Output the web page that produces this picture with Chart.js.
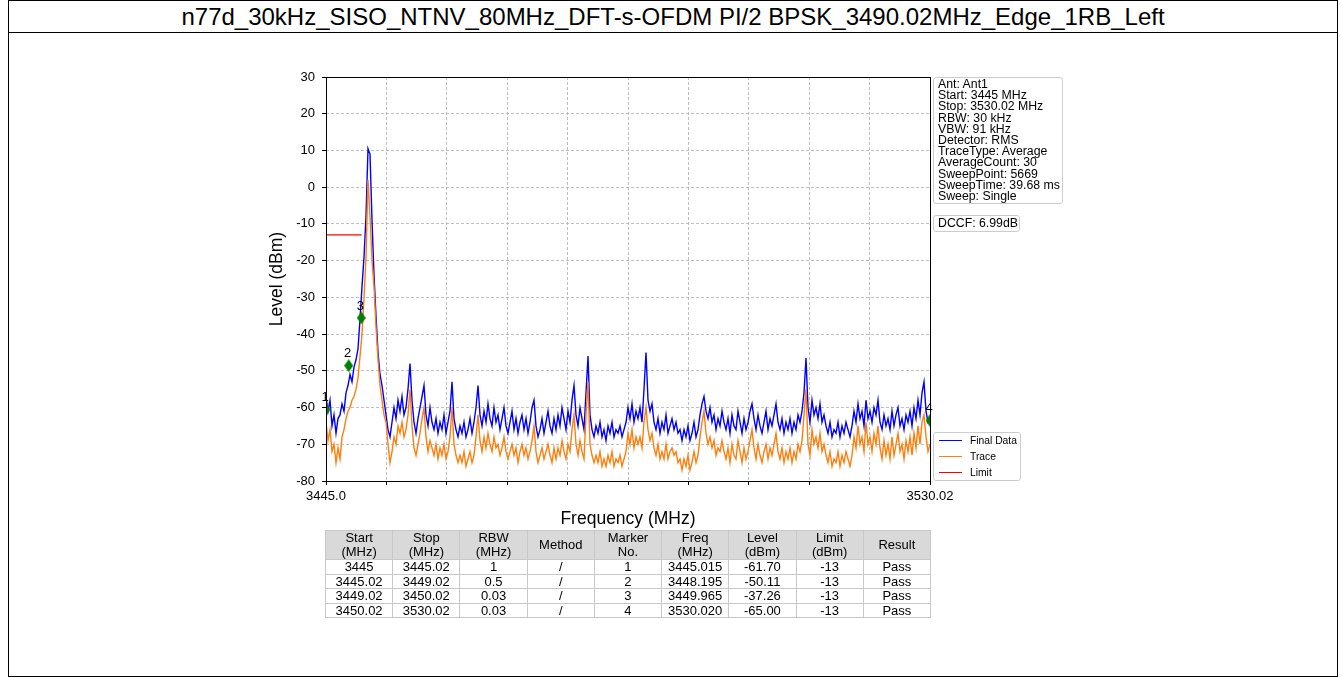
<!DOCTYPE html>
<html>
<head>
<meta charset="utf-8">
<script src="https://cdn.jsdelivr.net/npm/chart.js@4.4.1/dist/chart.umd.min.js"></script>
<style>
html,body{margin:0;padding:0;background:#fff;}
body{width:1340px;height:677px;position:relative;overflow:hidden;font-family:"Liberation Sans",Arial,sans-serif;color:#000;}
#frame{position:absolute;left:8px;top:0;width:1330px;height:677px;box-sizing:border-box;border:1px solid #000;}
#title{position:absolute;left:8px;top:0;width:1330px;height:33px;box-sizing:border-box;border:1px solid #000;text-align:center;font-size:24px;line-height:31px;white-space:nowrap;}
#chart{position:absolute;left:0;top:0;}
.box{position:absolute;background:#fff;border:1px solid #cccccc;border-radius:3px;box-sizing:border-box;white-space:nowrap;}
#info{left:933px;top:77px;width:130px;height:127px;padding:1px 0 0 4px;font-size:12.3px;line-height:11.2px;}
#dccf{left:933px;top:215px;width:87px;height:17px;padding:0 0 0 4px;font-size:12.3px;line-height:15px;}
#legend{left:933px;top:432px;width:88px;height:49px;font-size:10.3px;}
.lg{position:absolute;left:5px;height:16px;line-height:16px;}
.lg span.ln{position:absolute;left:0;top:7px;width:23px;height:0;border-top:1.5px solid;}
.lg span.tx{position:absolute;left:31px;top:0;}
#tbl{position:absolute;left:325px;top:530px;width:606px;border-collapse:collapse;table-layout:fixed;font-size:13px;}
#tbl td,#tbl th{border:1px solid #c8c8c8;padding:0;text-align:center;font-weight:normal;}
#tbl th{background:#d9d9d9;line-height:14px;height:28px;}
#tbl td{line-height:13.5px;height:13.5px;}
</style>
</head>
<body>
<div id="frame"></div>
<div id="title">n77d_30kHz_SISO_NTNV_80MHz_DFT-s-OFDM PI/2 BPSK_3490.02MHz_Edge_1RB_Left</div>
<canvas id="chart" width="1340" height="677"></canvas>
<div id="info" class="box"></div>
<div id="dccf" class="box">DCCF: 6.99dB</div>
<div id="legend" class="box"></div>
<table id="tbl"></table>
<script>
// ---- sweep settings (from info box) ----
const sweepStart = 3445;
const sweepStop = 3530.02;

// ---- Final Data (blue), evenly spaced over the sweep ----
const finalData = [
 -57,-61,-58,-65,-62,-67,-63,-62,-59,-61,
 -56,-54,-51,-53,-49,-47,-44,-36,-27,-19,
 -8,10.5,9,-9,-24,-35,-45,-51,-54,-58,
 -62,-66,-68,-64,-60,-63,-58,-61,-57,-62,
 -60,-55,-48,-58,-64,-67,-63,-60,-57,-54,
 -62,-65,-60,-64,-66,-63,-67,-64,-66,-62,
 -67,-64,-61,-53,-63,-66,-68,-65,-67,-64,
 -68,-66,-63,-67,-64,-60,-54,-62,-65,-61,
 -64,-59,-63,-65,-60,-64,-62,-66,-63,-60,
 -65,-67,-64,-61,-66,-63,-67,-64,-62,-66,
 -63,-67,-64,-60,-58,-65,-68,-66,-63,-67,
 -64,-61,-65,-67,-63,-66,-62,-65,-60,-63,
 -66,-61,-64,-58,-54,-62,-65,-60,-63,-66,
 -56,-46,-62,-66,-68,-65,-67,-64,-68,-66,
 -69,-65,-67,-64,-68,-66,-67,-65,-68,-66,
 -64,-60,-63,-59,-64,-61,-63,-60,-64,-55,
 -45,-58,-61,-59,-64,-66,-63,-67,-64,-66,
 -62,-67,-65,-63,-66,-64,-67,-66,-69,-66,
 -68,-65,-69,-67,-64,-68,-66,-62,-59,-57,
 -61,-63,-60,-64,-62,-66,-63,-65,-61,-64,
 -66,-63,-67,-62,-65,-66,-61,-64,-67,-63,
 -66,-64,-61,-59,-63,-66,-62,-65,-67,-64,
 -61,-66,-63,-65,-62,-59,-64,-66,-63,-67,
 -64,-66,-63,-67,-64,-66,-62,-64,-61,-56,
 -46.5,-60,-64,-58,-62,-60,-63,-59,-64,-62,
 -65,-67,-64,-68,-66,-67,-64,-68,-65,-67,
 -64,-66,-68,-65,-61,-64,-59,-63,-61,-65,
 -58,-63,-61,-64,-60,-62,-58,-64,-66,-62,
 -65,-63,-66,-61,-65,-62,-60,-65,-63,-66,
 -62,-64,-61,-65,-60,-63,-58,-62,-56,-53,
 -61,-64,-63
];

// ---- Trace (orange), same sweep grid ----
const traceData = [
 -64,-69,-66,-72,-70,-75,-71,-74,-68,-66,
 -63,-61,-60,-58,-57,-55,-52,-46,-40,-30,
 -19,2,-8,-20,-27,-38,-47,-54,-58,-62,
 -64,-70,-75,-72,-68,-70,-65,-67,-64,-68,
 -66,-62,-55,-65,-71,-73,-70,-67,-63,-60,
 -68,-72,-69,-71,-73,-70,-74,-71,-73,-70,
 -74,-72,-68,-60,-70,-73,-75,-73,-75,-72,
 -76,-74,-72,-75,-73,-68,-62,-69,-72,-68,
 -71,-67,-70,-72,-68,-71,-70,-73,-71,-68,
 -72,-74,-72,-70,-73,-71,-75,-72,-70,-73,
 -71,-74,-72,-69,-65,-72,-75,-73,-71,-74,
 -72,-70,-73,-75,-71,-74,-71,-73,-69,-72,
 -74,-70,-72,-66,-62,-70,-73,-69,-72,-74,
 -62,-53,-70,-73,-75,-73,-75,-72,-76,-74,
 -76,-73,-75,-72,-76,-74,-75,-73,-76,-74,
 -72,-67,-70,-66,-71,-68,-70,-68,-71,-64,
 -60,-66,-69,-67,-71,-73,-70,-74,-72,-74,
 -70,-74,-72,-71,-73,-72,-75,-74,-77,-74,
 -76,-73,-77,-75,-72,-75,-73,-68,-64,-61,
 -67,-70,-68,-71,-69,-73,-71,-72,-69,-72,
 -74,-71,-75,-70,-73,-74,-69,-72,-75,-71,
 -74,-72,-69,-66,-71,-74,-70,-73,-75,-72,
 -70,-74,-71,-73,-70,-67,-72,-74,-71,-75,
 -72,-74,-71,-75,-72,-74,-70,-72,-69,-62,
 -55,-70,-73,-66,-70,-68,-71,-67,-72,-70,
 -73,-75,-72,-76,-74,-75,-72,-76,-73,-75,
 -72,-74,-76,-73,-68,-71,-65,-70,-68,-72,
 -64,-70,-68,-72,-67,-70,-65,-71,-74,-69,
 -73,-70,-74,-68,-73,-70,-67,-72,-70,-74,
 -69,-72,-68,-73,-67,-71,-65,-70,-64,-62,
 -68,-72,-70
];

// ---- Limit line ----
const limitFreq = [3445, 3450.02];
const limitLevel = [-13, -13];

// ---- Markers ----
const markerNo = ['1', '2', '3', '4'];
const markerFreq = [3445.015, 3448.195, 3449.965, 3530.02];
const markerPlotLevel = [-60.5, -48.6, -35.6, -63.5];

// ---- Axis ticks ----
const xTickValues = [3445.0, 3453.502, 3462.004, 3470.506, 3479.008, 3487.51, 3496.012, 3504.514, 3513.016, 3521.518, 3530.02];
const xTickLabels = ['3445.0', '', '', '', '', '', '', '', '', '', '3530.02'];
const yMin = -80, yMax = 30, yStep = 10;

// ---- Info box ----
const infoLines = ['Ant: Ant1', 'Start: 3445 MHz', 'Stop: 3530.02 MHz', 'RBW: 30 kHz', 'VBW: 91 kHz', 'Detector: RMS', 'TraceType: Average', 'AverageCount: 30', 'SweepPoint: 5669', 'SweepTime: 39.68 ms', 'Sweep: Single'];

// ---- Table ----
const tableHeader = ['Start<br>(MHz)', 'Stop<br>(MHz)', 'RBW<br>(MHz)', 'Method', 'Marker<br>No.', 'Freq<br>(MHz)', 'Level<br>(dBm)', 'Limit<br>(dBm)', 'Result'];
const tblStart = ['3445', '3445.02', '3449.02', '3450.02'];
const tblStop = ['3445.02', '3449.02', '3450.02', '3530.02'];
const tblRBW = ['1', '0.5', '0.03', '0.03'];
const tblMethod = ['/', '/', '/', '/'];
const tblFreq = ['3445.015', '3448.195', '3449.965', '3530.020'];
const tblLevel = ['-61.70', '-50.11', '-37.26', '-65.00'];
const tblLimit = ['-13', '-13', '-13', '-13'];
const tblResult = ['Pass', 'Pass', 'Pass', 'Pass'];

// ---- Legend ----
const legendNames = ['Final Data', 'Trace', 'Limit'];
const legendColors = ['#0000ff', '#ff7f0e', '#ff0000'];

// ===== build HTML parts =====
document.getElementById('info').innerHTML = infoLines.join('<br>');
const lg = document.getElementById('legend');
legendNames.forEach((n, i) => {
  const d = document.createElement('div');
  d.className = 'lg';
  d.style.top = (0 + i * 16) + 'px';
  d.innerHTML = '<span class="ln" style="border-color:' + legendColors[i] + '"></span><span class="tx">' + n + '</span>';
  lg.appendChild(d);
});
let html = '<tr>' + tableHeader.map(h => '<th>' + h + '</th>').join('') + '</tr>';
for (let i = 0; i < tblStart.length; i++) {
  html += '<tr>' + [tblStart[i], tblStop[i], tblRBW[i], tblMethod[i], markerNo[i], tblFreq[i], tblLevel[i], tblLimit[i], tblResult[i]].map(c => '<td>' + c + '</td>').join('') + '</tr>';
}
document.getElementById('tbl').innerHTML = html;

// ===== chart =====
const FONT = '"Liberation Sans", Arial, sans-serif';
const N = finalData.length;
const freqs = finalData.map((_, i) => sweepStart + i * (sweepStop - sweepStart) / (N - 1));

const diamond = document.createElement('canvas');
diamond.width = 9; diamond.height = 13;
(function () {
  const c = diamond.getContext('2d');
  c.fillStyle = '#008000';
  c.beginPath(); c.moveTo(4.5, 0); c.lineTo(9, 6.5); c.lineTo(4.5, 13); c.lineTo(0, 6.5); c.closePath(); c.fill();
})();

const boxPlugin = {
  id: 'boxPlugin',
  afterDatasetsDraw(chart) {
    const {ctx, chartArea: a} = chart;
    ctx.save();
    ctx.strokeStyle = '#000';
    ctx.lineWidth = 1;
    ctx.strokeRect(Math.round(a.left) + 0.5, Math.round(a.top) + 0.5, Math.round(a.right - a.left), Math.round(a.bottom - a.top));
    ctx.restore();
  },
  afterDraw(chart) {
    const {ctx, scales} = chart;
    ctx.save();
    ctx.fillStyle = '#000';
    ctx.font = '13px ' + FONT;
    ctx.textAlign = 'center';
    ctx.textBaseline = 'middle';
    markerNo.forEach((m, i) => {
      const px = scales.x.getPixelForValue(markerFreq[i]);
      const py = scales.y.getPixelForValue(markerPlotLevel[i]);
      ctx.fillText(m, px - 1, py - 12);
    });
    ctx.restore();
  }
};

new Chart(document.getElementById('chart'), {
  type: 'line',
  data: {
    datasets: [
      { label: 'Final Data', data: freqs.map((f, i) => ({x: f, y: finalData[i]})), borderColor: '#0000ff', borderWidth: 1.4, pointRadius: 0, order: 4, clip: 0 },
      { label: 'Trace', data: freqs.map((f, i) => ({x: f, y: traceData[i]})), borderColor: '#ff7f0e', borderWidth: 1.4, pointRadius: 0, order: 3, clip: 0 },
      { label: 'Limit', data: limitFreq.map((f, i) => ({x: f, y: limitLevel[i]})), borderColor: '#ff0000', borderWidth: 1.2, pointRadius: 0, order: 2, clip: 0 },
      { label: 'Markers', data: markerFreq.map((f, i) => ({x: f, y: markerPlotLevel[i]})), showLine: false, pointStyle: diamond, pointRadius: 6, order: 1, clip: 0 }
    ]
  },
  options: {
    responsive: false,
    animation: false,
    devicePixelRatio: 1,
    layout: { padding: { left: 246, right: 410, top: 77, bottom: 146 } },
    plugins: { legend: { display: false }, tooltip: { enabled: false }, title: { display: false } },
    scales: {
      x: {
        type: 'linear', min: sweepStart, max: sweepStop,
        afterBuildTicks(s) { s.ticks = xTickValues.map(v => ({value: v})); },
        afterFit(s) { s.height = 50; },
        ticks: { autoSkip: false, maxRotation: 0, minRotation: 0, padding: 4, color: '#000', font: { size: 13, family: FONT }, callback: (v, i) => xTickLabels[i] },
        grid: { color: '#b0b0b0', lineWidth: 0.8, tickLength: 4, tickColor: '#000', tickWidth: 1 },
        border: { display: false, dash: [3, 2] },
        title: { display: true, text: 'Frequency (MHz)', color: '#000', font: { size: 17.5, family: FONT }, padding: { top: 0, bottom: 1.5 } }
      },
      y: {
        type: 'linear', min: yMin, max: yMax,
        afterFit(s) { s.width = 80; },
        ticks: { stepSize: yStep, padding: 7, color: '#000', font: { size: 13, family: FONT } },
        grid: { color: '#b0b0b0', lineWidth: 0.8, tickLength: 4, tickColor: '#000', tickWidth: 1 },
        border: { display: false, dash: [3, 2] },
        title: { display: true, text: 'Level (dBm)', color: '#000', font: { size: 17.5, family: FONT }, padding: { top: 20.5, bottom: 0 } }
      }
    }
  },
  plugins: [boxPlugin]
});
</script>
</body>
</html>
